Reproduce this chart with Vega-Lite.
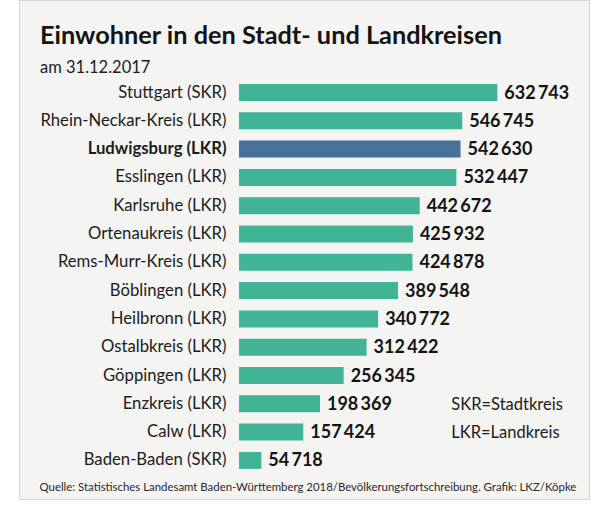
{
  "$schema": "https://vega.github.io/schema/vega-lite/v6.json",
  "width": 570,
  "height": 499,
  "autosize": {"type": "none"},
  "padding": {"left": 19, "top": 0, "right": 20, "bottom": 11},
  "background": "#ffffff",
  "config": {
    "locale": {"number": {"decimal": ",", "thousands": "\u2009", "grouping": [3], "currency": ["", " €"]}},
    "view": {"fill": "#f4f4f2", "stroke": "#d4d4d4", "strokeWidth": 1}
  },
  "title": {
    "text": "Einwohner in den Stadt- und Landkreisen",
    "subtitle": "am 31.12.2017",
    "anchor": "start",
    "frame": "group",
    "orient": "top",
    "offset": -76,
    "dx": 21,
    "font": "Lato",
    "fontSize": 25.3,
    "fontWeight": "bold",
    "color": "#141414",
    "subtitleFont": "Lato",
    "subtitleFontSize": 16.5,
    "subtitleColor": "#1c1c1c",
    "subtitlePadding": 10
  },
  "datasets": {
    "kreise": [
      {"kreis": "Stuttgart (SKR)", "einwohner": 632743},
      {"kreis": "Rhein-Neckar-Kreis (LKR)", "einwohner": 546745},
      {"kreis": "Ludwigsburg (LKR)", "einwohner": 542630},
      {"kreis": "Esslingen (LKR)", "einwohner": 532447},
      {"kreis": "Karlsruhe (LKR)", "einwohner": 442672},
      {"kreis": "Ortenaukreis (LKR)", "einwohner": 425932},
      {"kreis": "Rems-Murr-Kreis (LKR)", "einwohner": 424878},
      {"kreis": "Böblingen (LKR)", "einwohner": 389548},
      {"kreis": "Heilbronn (LKR)", "einwohner": 340772},
      {"kreis": "Ostalbkreis (LKR)", "einwohner": 312422},
      {"kreis": "Göppingen (LKR)", "einwohner": 256345},
      {"kreis": "Enzkreis (LKR)", "einwohner": 198369},
      {"kreis": "Calw (LKR)", "einwohner": 157424},
      {"kreis": "Baden-Baden (SKR)", "einwohner": 54718}
    ],
    "hinweise": [
      {"kreis": "Enzkreis (LKR)", "hinweis": "SKR=Stadtkreis"},
      {"kreis": "Calw (LKR)", "hinweis": "LKR=Landkreis"}
    ]
  },
  "layer": [
    {
      "data": {"name": "kreise"},
      "mark": {"type": "bar"},
      "encoding": {
        "y": {
          "field": "kreis",
          "type": "nominal",
          "sort": null,
          "scale": {"range": [78.35, 474.55], "paddingInner": 0.4, "paddingOuter": 0.2},
          "axis": {
            "title": null,
            "domain": false,
            "ticks": false,
            "grid": false,
            "offset": -209,
            "labelPadding": 2,
            "labelLimit": 0,
            "labelFont": "Lato",
            "labelFontSize": 16.7,
            "labelColor": "#1c1c1c",
            "labelFontWeight": {"condition": {"test": "datum.value === 'Ludwigsburg (LKR)'", "value": "bold"}, "value": "normal"}
          }
        },
        "x": {
          "field": "einwohner",
          "type": "quantitative",
          "scale": {"domain": [0, 700000], "range": [220, 505.8], "nice": false},
          "axis": {
            "title": "Quelle: Statistisches Landesamt Baden-Württemberg 2018/Bevölkerungsfortschreibung. Grafik: LKZ/Köpke",
            "domain": false,
            "ticks": false,
            "labels": false,
            "grid": false,
            "titleX": 20,
            "titleY": -9,
            "titleAlign": "left",
            "titleAnchor": "start",
            "titleBaseline": "alphabetic",
            "titleFont": "Lato",
            "titleFontSize": 11.4,
            "titleFontWeight": "normal",
            "titleColor": "#2a2a2a"
          }
        },
        "color": {
          "condition": {"test": "datum.kreis === 'Ludwigsburg (LKR)'", "value": "#47709c"},
          "value": "#41b495"
        }
      }
    },
    {
      "data": {"name": "kreise"},
      "mark": {"type": "text", "align": "left", "baseline": "middle", "dx": 7, "dy": 1, "font": "Lato", "fontSize": 18, "fontWeight": "bold", "color": "#141414"},
      "encoding": {
        "y": {"field": "kreis", "type": "nominal", "sort": null},
        "x": {"field": "einwohner", "type": "quantitative"},
        "text": {"field": "einwohner", "type": "quantitative", "format": ","}
      }
    },
    {
      "data": {"name": "hinweise"},
      "mark": {"type": "text", "align": "left", "baseline": "middle", "dy": 1, "font": "Lato", "fontSize": 16.5, "color": "#1c1c1c"},
      "encoding": {
        "y": {"field": "kreis", "type": "nominal", "sort": null},
        "x": {"datum": 520000, "type": "quantitative"},
        "text": {"field": "hinweis", "type": "nominal"}
      }
    }
  ]
}
